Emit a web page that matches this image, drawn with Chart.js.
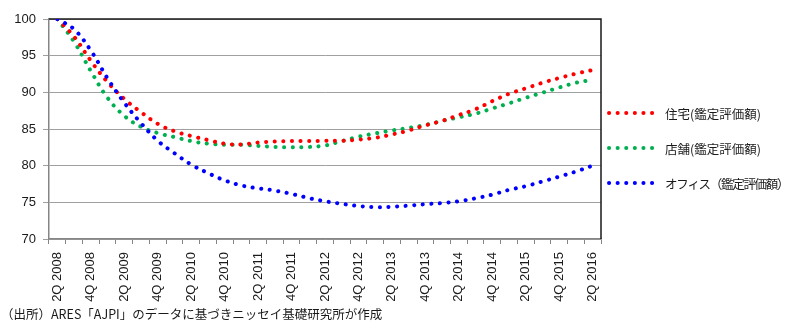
<!DOCTYPE html>
<html lang="ja">
<head>
<meta charset="UTF-8">
<title>AJPI</title>
<script src="https://cdn.jsdelivr.net/npm/chart.js"></script>
<style>
  body { margin: 0; background: #fff; }
  #wrap { width: 790px; height: 323px; }
</style>
</head>
<body>
<div id="wrap"><canvas id="myChart" width="790" height="323"></canvas></div>
<script>
  // quarters 2Q 2008 .. 2Q 2016
  const quarters = [
    '2Q 2008', '3Q 2008', '4Q 2008',
    '1Q 2009', '2Q 2009', '3Q 2009', '4Q 2009',
    '1Q 2010', '2Q 2010', '3Q 2010', '4Q 2010',
    '1Q 2011', '2Q 2011', '3Q 2011', '4Q 2011',
    '1Q 2012', '2Q 2012', '3Q 2012', '4Q 2012',
    '1Q 2013', '2Q 2013', '3Q 2013', '4Q 2013',
    '1Q 2014', '2Q 2014', '3Q 2014', '4Q 2014',
    '1Q 2015', '2Q 2015', '3Q 2015', '4Q 2015',
    '1Q 2016', '2Q 2016'
  ];

  const residential = [100, 97.6, 94.3, 91.4, 89.1, 87.3, 85.7, 84.7, 84.05, 83.5, 83.0, 82.9, 83.15, 83.3, 83.35, 83.35,
    83.4, 83.4, 83.55, 83.8, 84.25, 84.8, 85.5, 86.1, 86.9, 87.7, 88.8, 89.8, 90.55, 91.3, 91.95, 92.55, 93.05];
  const retail = [100, 96.9, 92.9, 89.25, 86.8, 85.3, 84.45, 83.9, 83.35, 83.0, 82.85, 82.85, 82.7, 82.55, 82.5, 82.55,
    82.75, 83.35, 83.95, 84.4, 84.8, 85.15, 85.55, 86.1, 86.6, 87.1, 87.8, 88.5, 89.25, 89.95, 90.65, 91.3, 91.7];
  const office = [100, 98.6, 95.7, 91.9, 88.6, 85.8, 83.4, 81.7, 80.15, 79.0, 78.0, 77.3, 76.9, 76.6, 76.15, 75.6,
    75.15, 74.8, 74.5, 74.35, 74.4, 74.55, 74.75, 74.9, 75.15, 75.55, 76.05, 76.7, 77.2, 77.85, 78.5, 79.2, 80.0];

  const seriesNames = ['住宅(鑑定評価額)', '店舗(鑑定評価額)', 'オフィス（鑑定評価額）'];
  const yTicks = [70, 75, 80, 85, 90, 95, 100];
  const note = '（出所）ARES「AJPI」のデータに基づきニッセイ基礎研究所が作成';

  const dotted = (color, values, label, order) => ({
    label: label,
    data: values,
    borderColor: color,
    backgroundColor: color,
    borderWidth: 4,
    borderDash: [0.1, 8.5],
    borderCapStyle: 'round',
    pointRadius: 0,
    tension: 0.4,
    fill: false,
    order: order
  });

  // frame (top/right black border), legend and source note
  const extras = {
    id: 'extras',
    beforeDatasetsDraw(chart) {
      const { ctx, chartArea: a } = chart;
      ctx.save();
      ctx.strokeStyle = '#1a1a1a';
      ctx.lineWidth = 1.5;
      ctx.beginPath();
      ctx.moveTo(a.left, a.top);
      ctx.lineTo(a.right, a.top);
      ctx.lineTo(a.right, a.bottom);
      ctx.stroke();
      ctx.restore();
    },
    afterDraw(chart) {
      const ctx = chart.ctx;
      ctx.save();
      chart.data.datasets.forEach((ds, i) => {
        const y = 113 + 35 * i;
        ctx.strokeStyle = ds.borderColor;
        ctx.lineWidth = ds.borderWidth;
        ctx.lineCap = 'round';
        ctx.setLineDash(ds.borderDash);
        ctx.beginPath();
        ctx.moveTo(609, y);
        ctx.lineTo(654, y);
        ctx.stroke();
        ctx.setLineDash([]);
        ctx.fillStyle = '#1a1a1a';
        ctx.font = '12.5px "Noto Sans CJK JP"';
        ctx.textBaseline = 'middle';
        // the katakana label is set tighter in the original
        ctx.letterSpacing = i === 2 ? '-1.3px' : '0px';
        ctx.fillText(ds.label, 665, y + 1);
      });
      ctx.letterSpacing = '0px';
      ctx.font = '12.5px "Noto Sans CJK JP"';
      ctx.fillStyle = '#1a1a1a';
      ctx.textBaseline = 'middle';
      ctx.fillText(note, 1, 314);
      ctx.restore();
    }
  };

  const myChart = new Chart(document.getElementById('myChart'), {
    type: 'line',
    data: {
      labels: quarters,
      datasets: [
        dotted('#ff0000', residential, seriesNames[0], 1),
        dotted('#00b050', retail, seriesNames[1], 2),
        dotted('#0000ff', office, seriesNames[2], 0)
      ]
    },
    options: {
      responsive: false,
      animation: false,
      layout: { padding: { left: 0, right: 189, top: 19, bottom: 0 } },
      plugins: {
        legend: { display: false },
        tooltip: { enabled: false }
      },
      scales: {
        x: {
          offset: true,
          afterFit: (s) => { s.height = 84; },
          border: { color: '#868686', width: 1.5 },
          grid: { drawOnChartArea: false, offset: true, tickLength: 5, color: '#868686', lineWidth: 1 },
          ticks: {
            autoSkip: false,
            minRotation: 90,
            maxRotation: 90,
            padding: 8,
            color: '#1a1a1a',
            font: { family: '"Liberation Sans", Arial, sans-serif', size: 13 },
            callback: function (v, i) { return i % 2 === 0 ? this.getLabelForValue(v) : ''; }
          }
        },
        y: {
          min: 70,
          max: 100,
          afterFit: (s) => { s.width = 49; },
          afterBuildTicks: (s) => { s.ticks = yTicks.map(v => ({ value: v })); },
          border: { color: '#868686', width: 1.5 },
          grid: { color: '#a0a0a0', lineWidth: 1, tickLength: 6 },
          ticks: {
            padding: 7,
            color: '#1a1a1a',
            font: { family: '"Liberation Sans", Arial, sans-serif', size: 13 }
          }
        }
      }
    },
    plugins: [extras]
  });
</script>
</body>
</html>
